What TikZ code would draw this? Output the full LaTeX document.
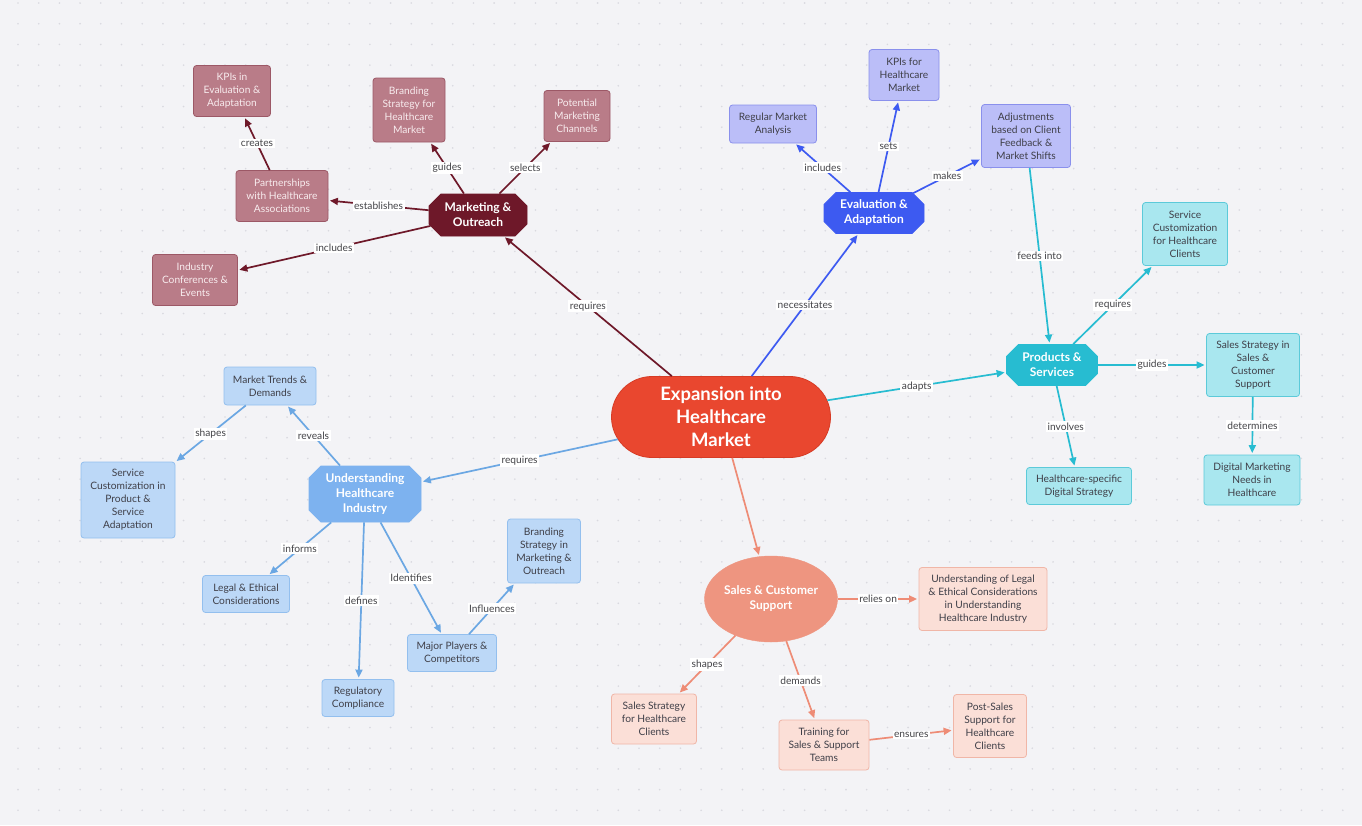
\documentclass[tikz,border=0pt]{standalone}
\usepackage{fontspec}
\setmainfont{Lato}
\usetikzlibrary{shapes.misc,shapes.geometric,arrows.meta}
\definecolor{bgc}{HTML}{F3F3F6}
\definecolor{dotc}{HTML}{D9D9DF}
\definecolor{labc}{HTML}{444448}
\definecolor{txtc}{HTML}{3F3F48}
\definecolor{cenF}{HTML}{E9472F}
\definecolor{cenD}{HTML}{D63B25}
\definecolor{mkH}{HTML}{6E1829}
\definecolor{mkL}{HTML}{B97C88}
\definecolor{mkB}{HTML}{9C5866}
\definecolor{mkT}{HTML}{F8ECEE}
\definecolor{evH}{HTML}{3D5AF1}
\definecolor{evL}{HTML}{BBBEF8}
\definecolor{evB}{HTML}{8A90EC}
\definecolor{prH}{HTML}{27BCD1}
\definecolor{prL}{HTML}{A9E7EF}
\definecolor{prB}{HTML}{5CCAD9}
\definecolor{unH}{HTML}{7DB2EF}
\definecolor{unE}{HTML}{6BA7E3}
\definecolor{unL}{HTML}{BCD8F7}
\definecolor{unB}{HTML}{93BFEE}
\definecolor{saH}{HTML}{EE9580}
\definecolor{saE}{HTML}{EE8C76}
\definecolor{saL}{HTML}{FBDFD7}
\definecolor{saB}{HTML}{F0B6A7}
\begin{document}
\begin{tikzpicture}[x=1pt,y=-1pt,
  leaf/.style={draw, rounded corners=3pt, align=center, inner sep=0pt, line width=0.8pt,
    font=\fontsize{10.2}{13}\selectfont, text=txtc},
  mleaf/.style={leaf, fill=mkL, draw=mkB, text=mkT},
  eleaf/.style={leaf, fill=evL, draw=evB},
  pleaf/.style={leaf, fill=prL, draw=prB},
  uleaf/.style={leaf, fill=unL, draw=unB},
  sleaf/.style={leaf, fill=saL, draw=saB},
  hub/.style={chamfered rectangle, chamfered rectangle xsep=6pt, chamfered rectangle ysep=6pt,
    align=center, inner sep=0pt, text=white, line width=0.8pt,
    font=\fontsize{12}{15}\selectfont\bfseries},
  lbl/.style={fill=white, inner sep=1.5pt, text=labc, font=\fontsize{10.2}{12}\selectfont},
  edge/.style={line width=1.7pt, -{Triangle[length=8pt,width=7pt]}, shorten >=1.5pt},
  medge/.style={edge, draw=mkH},
  eedge/.style={edge, draw=evH},
  pedge/.style={edge, draw=prH},
  uedge/.style={edge, draw=unE},
  sedge/.style={edge, draw=saE}
]
\fill[bgc] (0,0) rectangle (1362,825);
\useasboundingbox (0,0) rectangle (1362,825);
\foreach \i in {0,...,65}{\foreach \j in {0,...,40}{\fill[dotc] (18+\i*20.7,3+\j*20.7) circle (0.9pt);}}

% central
\node[rounded rectangle, fill=cenF, draw=cenD, line width=0.8pt, minimum width=219pt, minimum height=81pt,
  inner sep=0pt, align=center, text=white, font=\fontsize{18.5}{23}\selectfont\bfseries]
  (cen) at (721,417) {Expansion into\\Healthcare\\Market};

% marketing
\node[hub, fill=mkH, draw=mkH, minimum width=98pt, minimum height=42pt] (mkt) at (478,215) {Marketing \&\\Outreach};
\node[mleaf, minimum width=77pt, minimum height=51pt] (kpie) at (232,91) {KPIs in\\Evaluation \&\\Adaptation};
\node[mleaf, minimum width=72pt, minimum height=64pt] (brand) at (409,110) {Branding\\Strategy for\\Healthcare\\Market};
\node[mleaf, minimum width=66pt, minimum height=51pt] (chan) at (577,116) {Potential\\Marketing\\Channels};
\node[mleaf, minimum width=92pt, minimum height=51pt] (part) at (282,196) {Partnerships\\with Healthcare\\Associations};
\node[mleaf, minimum width=85pt, minimum height=51pt] (conf) at (195,280) {Industry\\Conferences \&\\Events};

% evaluation
\node[hub, fill=evH, draw=evH, minimum width=100pt, minimum height=41pt] (eva) at (874,213) {Evaluation \&\\Adaptation};
\node[eleaf, minimum width=70pt, minimum height=51pt] (kpih) at (904,75) {KPIs for\\Healthcare\\Market};
\node[eleaf, minimum width=87pt, minimum height=38pt] (reg) at (773,124) {Regular Market\\Analysis};
\node[eleaf, minimum width=89pt, minimum height=63pt] (adj) at (1026,136) {Adjustments\\based on Client\\Feedback \&\\Market Shifts};

% products
\node[hub, fill=prH, draw=prH, minimum width=91pt, minimum height=41pt] (prod) at (1052,365) {Products \&\\Services};
\node[pleaf, minimum width=85pt, minimum height=63pt] (scust) at (1185,234) {Service\\Customization\\for Healthcare\\Clients};
\node[pleaf, minimum width=93pt, minimum height=63pt] (sstr) at (1253,365) {Sales Strategy in\\Sales \&\\Customer\\Support};
\node[pleaf, minimum width=105pt, minimum height=37pt] (hds) at (1079,486) {Healthcare-specific\\Digital Strategy};
\node[pleaf, minimum width=96pt, minimum height=50pt] (dmn) at (1252,480) {Digital Marketing\\Needs in\\Healthcare};

% understanding
\node[hub, fill=unH, draw=unH, minimum width=112pt, minimum height=56pt] (und) at (365,494) {Understanding\\Healthcare\\Industry};
\node[uleaf, minimum width=92pt, minimum height=38pt] (trend) at (270,386) {Market Trends \&\\Demands};
\node[uleaf, minimum width=94pt, minimum height=76pt] (scp) at (128,500) {Service\\Customization in\\Product \&\\Service\\Adaptation};
\node[uleaf, minimum width=87pt, minimum height=37pt] (legal) at (246,594) {Legal \& Ethical\\Considerations};
\node[uleaf, minimum width=72pt, minimum height=37pt] (regc) at (358,698) {Regulatory\\Compliance};
\node[uleaf, minimum width=89pt, minimum height=37pt] (major) at (452,653) {Major Players \&\\Competitors};
\node[uleaf, minimum width=73pt, minimum height=64pt] (bmo) at (544,551) {Branding\\Strategy in\\Marketing \&\\Outreach};

% sales
\node[ellipse, fill=saH, draw=saH, minimum width=133pt, minimum height=86pt, inner sep=0pt, align=center,
  text=white, font=\fontsize{12}{15}\selectfont\bfseries] (sal) at (771,599) {Sales \& Customer\\Support};
\node[sleaf, minimum width=128pt, minimum height=63pt] (ule) at (983,599) {Understanding of Legal\\\& Ethical Considerations\\in Understanding\\Healthcare Industry};
\node[sleaf, minimum width=85pt, minimum height=50pt] (ssh) at (654,719) {Sales Strategy\\for Healthcare\\Clients};
\node[sleaf, minimum width=90pt, minimum height=50pt] (train) at (824,745) {Training for\\Sales \& Support\\Teams};
\node[sleaf, minimum width=73pt, minimum height=63pt] (post) at (990,726) {Post-Sales\\Support for\\Healthcare\\Clients};

% edges marketing
\draw[medge] (cen) -- node[lbl]{requires} (mkt);
\draw[medge] (part) -- node[lbl]{creates} (kpie);
\draw[medge] (mkt) -- node[lbl]{guides} (brand);
\draw[medge] (mkt) -- node[lbl]{selects} (chan);
\draw[medge] (mkt) -- node[lbl]{establishes} (part);
\draw[medge] (mkt) -- node[lbl]{includes} (conf);

% edges evaluation
\draw[eedge] (cen) -- node[lbl]{necessitates} (eva);
\draw[eedge] (eva) -- node[lbl]{includes} (reg);
\draw[eedge] (eva) -- node[lbl]{sets} (kpih);
\draw[eedge] (eva) -- node[lbl]{makes} (adj);

% edges products
\draw[pedge] (adj) -- node[lbl]{feeds into} (prod);
\draw[pedge] (cen) -- node[lbl]{adapts} (prod);
\draw[pedge] (prod) -- node[lbl]{requires} (scust);
\draw[pedge] (prod) -- node[lbl]{guides} (sstr);
\draw[pedge] (prod) -- node[lbl]{involves} (hds);
\draw[pedge] (sstr) -- node[lbl]{determines} (dmn);

% edges understanding
\draw[uedge] (cen) -- node[lbl]{requires} (und);
\draw[uedge] (und) -- node[lbl]{reveals} (trend);
\draw[uedge] (trend) -- node[lbl]{shapes} (scp);
\draw[uedge] (und) -- node[lbl]{informs} (legal);
\draw[uedge] (und) -- node[lbl]{defines} (regc);
\draw[uedge] (und) -- node[lbl]{Identifies} (major);
\draw[uedge] (major) -- node[lbl]{Influences} (bmo);

% edges sales
\draw[sedge] (cen) -- (sal);
\draw[sedge] (sal) -- node[lbl]{relies on} (ule);
\draw[sedge] (sal) -- node[lbl]{shapes} (ssh);
\draw[sedge] (sal) -- node[lbl]{demands} (train);
\draw[sedge] (train) -- node[lbl]{ensures} (post);
\end{tikzpicture}
\end{document}
